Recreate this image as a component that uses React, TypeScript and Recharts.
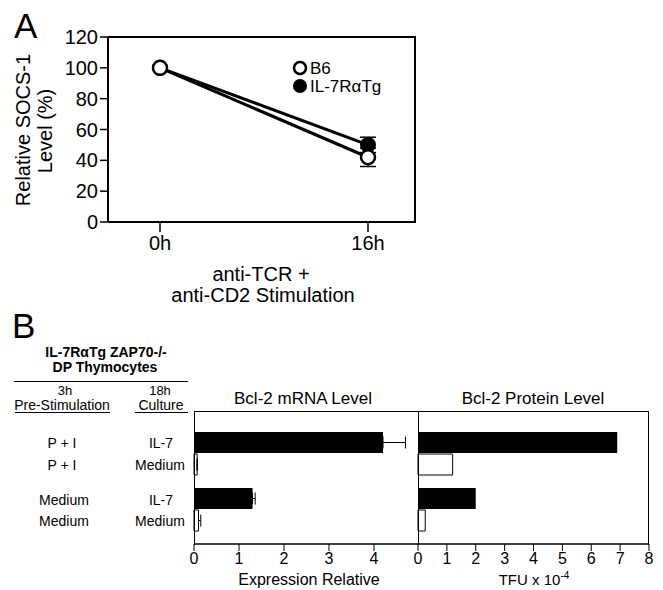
import React from "react";
import {
  LineChart,
  Line,
  BarChart,
  Bar,
  XAxis,
  YAxis,
  ErrorBar,
} from "recharts";

// Panel A: SOCS-1 time course
const timePoints = ["0h", "16h"];
const b6Values = [100, 42];
const b6Errors = [0, 6];
const tgValues = [100, 50];
const tgErrors = [0, 5];
const socsTicks = [0, 20, 40, 60, 80, 100, 120];

// Panel B: Bcl-2 bars (groups = pre-stimulation, series = 18h culture)
const preStim = ["P + I", "Medium"];
const mrnaIL7 = [4.2, 1.3];
const mrnaIL7Err = [0.5, 0.06];
const mrnaMedium = [0.07, 0.1];
const mrnaMediumErr = [0, 0.05];
const proteinIL7 = [6.9, 2.0];
const proteinMedium = [1.2, 0.25];
const mrnaTicks = [0, 1, 2, 3, 4];
const proteinTicks = [0, 1, 2, 3, 4, 5, 6, 7, 8];

const FONT = "'Liberation Sans', Arial, sans-serif";

const lineData = timePoints.map((t, i) => ({
  time: t,
  b6: b6Values[i],
  b6Err: [b6Errors[i], b6Errors[i]],
  tg: tgValues[i],
  tgErr: [tgErrors[i], tgErrors[i]],
}));

const mrnaData = preStim.map((p, i) => ({
  pre: p,
  il7: mrnaIL7[i],
  il7Err: [0, mrnaIL7Err[i]],
  medium: mrnaMedium[i],
  mediumErr: [0, mrnaMediumErr[i]],
}));

const proteinData = preStim.map((p, i) => ({
  pre: p,
  il7: proteinIL7[i],
  medium: proteinMedium[i],
}));

const abs = (style: React.CSSProperties): React.CSSProperties => ({
  position: "absolute",
  whiteSpace: "nowrap",
  lineHeight: 1,
  ...style,
});

function Centered({ x, y, size, children, weight }: any) {
  return (
    <div
      style={abs({
        left: x,
        top: y,
        transform: "translate(-50%, -50%)",
        fontSize: size,
        fontWeight: weight || "normal",
      })}
    >
      {children}
    </div>
  );
}

function SocsLegend() {
  const row: React.CSSProperties = {
    display: "flex",
    alignItems: "center",
    height: 16,
    marginBottom: 2,
  };
  return (
    <div style={abs({ left: 292, top: 60, fontSize: 17 })}>
      <div style={row}>
        <svg width={16} height={16}>
          <circle cx={8} cy={8} r={6} fill="#fff" stroke="#000" strokeWidth={2.5} />
        </svg>
        <span style={{ marginLeft: 2, lineHeight: "15px" }}>B6</span>
      </div>
      <div style={row}>
        <svg width={16} height={16}>
          <circle cx={8} cy={8} r={7} fill="#000" />
        </svg>
        <span style={{ marginLeft: 2, lineHeight: "15px" }}>IL-7RαTg</span>
      </div>
    </div>
  );
}

export default function App() {
  return (
    <div
      style={{
        position: "absolute",
        left: 0,
        top: 0,
        width: 663,
        height: 590,
        background: "#fff",
        fontFamily: FONT,
        color: "#000",
      }}
    >
      {/* Panel A */}
      <div style={abs({ left: 0, top: 0 })}>
        <LineChart
          width={663}
          height={310}
          data={lineData}
          margin={{ top: 37, right: 248, left: 48, bottom: 58 }}
        >
          <XAxis
            dataKey="time"
            padding={{ left: 52, right: 47 }}
            height={30}
            tickSize={10}
            tick={{ fontSize: 20, fill: "#000", fontFamily: FONT }}
            axisLine={{ stroke: "#000", strokeWidth: 2 }}
            tickLine={{ stroke: "#000", strokeWidth: 1.5 }}
            tickMargin={4}
          />
          <YAxis
            domain={[0, 120]}
            ticks={socsTicks}
            width={60}
            tickSize={8}
            tick={{ fontSize: 20, fill: "#000", fontFamily: FONT }}
            axisLine={{ stroke: "#000", strokeWidth: 2 }}
            tickLine={{ stroke: "#000", strokeWidth: 1.5 }}
            tickMargin={2}
          />
          <Line
            dataKey="tg"
            stroke="#000"
            strokeWidth={3}
            dot={{ r: 7, fill: "#000", stroke: "#000", strokeWidth: 2 }}
            isAnimationActive={false}
          >
            <ErrorBar dataKey="tgErr" width={8} stroke="#000" strokeWidth={1.5} />
          </Line>
          <Line
            dataKey="b6"
            stroke="#000"
            strokeWidth={3}
            dot={{ r: 7, fill: "#fff", stroke: "#000", strokeWidth: 2.5 }}
            isAnimationActive={false}
          >
            <ErrorBar dataKey="b6Err" width={8} stroke="#000" strokeWidth={1.5} />
          </Line>
        </LineChart>
      </div>
      {/* box top/right for panel A */}
      <div
        style={abs({
          left: 108,
          top: 36,
          width: 308,
          height: 187,
          borderTop: "2px solid #000",
          borderRight: "2px solid #000",
          boxSizing: "border-box",
          pointerEvents: "none",
        })}
      />
      <SocsLegend />
      <div style={abs({ left: 14, top: 8, fontSize: 35 })}>A</div>
      <div
        style={abs({
          left: 23,
          top: 130,
          fontSize: 20,
          transform: "translate(-50%, -50%) rotate(-90deg)",
        })}
      >
        Relative SOCS-1
      </div>
      <div
        style={abs({
          left: 45,
          top: 131,
          fontSize: 20,
          transform: "translate(-50%, -50%) rotate(-90deg)",
        })}
      >
        Level (%)
      </div>
      <Centered x={261} y={274} size={20}>
        anti-TCR +
      </Centered>
      <Centered x={263} y={295} size={20}>
        anti-CD2 Stimulation
      </Centered>

      {/* Panel B */}
      <div style={abs({ left: 12, top: 308, fontSize: 35 })}>B</div>
      <Centered x={106} y={352} size={14} weight="bold">
        IL-7RαTg ZAP70-/-
      </Centered>
      <Centered x={105} y={367} size={14} weight="bold">
        DP Thymocytes
      </Centered>
      <div style={abs({ left: 14, top: 381, width: 174, height: 1, background: "#000" })} />
      <Centered x={65} y={390} size={13}>
        3h
      </Centered>
      <Centered x={62} y={405} size={14}>
        Pre-Stimulation
      </Centered>
      <div style={abs({ left: 15, top: 412, width: 95, height: 1, background: "#000" })} />
      <Centered x={160} y={390} size={13}>
        18h
      </Centered>
      <Centered x={161} y={405} size={14}>
        Culture
      </Centered>
      <div style={abs({ left: 135, top: 412, width: 53, height: 1, background: "#000" })} />

      <Centered x={62} y={443} size={14}>P + I</Centered>
      <Centered x={161} y={443} size={14}>IL-7</Centered>
      <Centered x={62} y={465} size={14}>P + I</Centered>
      <Centered x={160} y={465} size={14}>Medium</Centered>
      <Centered x={64} y={500} size={14}>Medium</Centered>
      <Centered x={161} y={500} size={14}>IL-7</Centered>
      <Centered x={64} y={521} size={14}>Medium</Centered>
      <Centered x={160} y={521} size={14}>Medium</Centered>

      <Centered x={303} y={398} size={17}>Bcl-2 mRNA Level</Centered>
      <Centered x={533} y={398} size={17}>Bcl-2 Protein Level</Centered>

      <div style={abs({ left: 150, top: 380 })}>
        <BarChart
          layout="vertical"
          width={300}
          height={210}
          data={mrnaData}
          barGap={1}
          barSize={21}
          margin={{ top: 32, right: 31, left: 44, bottom: 16 }}
        >
          <XAxis
            type="number"
            domain={[0, 5]}
            ticks={mrnaTicks}
            height={30}
            tickSize={7}
            tickMargin={2}
            tick={{ fontSize: 16, fill: "#000", fontFamily: FONT }}
            axisLine={{ stroke: "#000", strokeWidth: 1.5 }}
            tickLine={{ stroke: "#000" }}
          />
          <YAxis type="category" dataKey="pre" hide padding={{ top: 13, bottom: 7 }} />
          <Bar dataKey="il7" fill="#000" isAnimationActive={false}>
            <ErrorBar dataKey="il7Err" direction="x" width={6} stroke="#000" strokeWidth={1} />
          </Bar>
          <Bar dataKey="medium" fill="#fff" stroke="#000" strokeWidth={1} isAnimationActive={false}>
            <ErrorBar dataKey="mediumErr" direction="x" width={6} stroke="#000" strokeWidth={1} />
          </Bar>
        </BarChart>
      </div>
      <div
        style={abs({
          left: 194,
          top: 411,
          width: 225,
          height: 134,
          border: "1.5px solid #000",
          borderBottom: "none",
          boxSizing: "border-box",
          pointerEvents: "none",
        })}
      />

      <div style={abs({ left: 380, top: 380 })}>
        <BarChart
          layout="vertical"
          width={283}
          height={210}
          data={proteinData}
          barGap={1}
          barSize={21}
          margin={{ top: 32, right: 14, left: 38, bottom: 16 }}
        >
          <XAxis
            type="number"
            domain={[0, 8]}
            ticks={proteinTicks}
            height={30}
            tickSize={7}
            tickMargin={2}
            tick={{ fontSize: 16, fill: "#000", fontFamily: FONT }}
            axisLine={{ stroke: "#000", strokeWidth: 1.5 }}
            tickLine={{ stroke: "#000" }}
          />
          <YAxis type="category" dataKey="pre" hide padding={{ top: 13, bottom: 7 }} />
          <Bar dataKey="il7" fill="#000" isAnimationActive={false} />
          <Bar dataKey="medium" fill="#fff" stroke="#000" strokeWidth={1} isAnimationActive={false} />
        </BarChart>
      </div>
      <div
        style={abs({
          left: 418,
          top: 411,
          width: 231,
          height: 134,
          border: "1.5px solid #000",
          borderBottom: "none",
          boxSizing: "border-box",
          pointerEvents: "none",
        })}
      />

      <Centered x={309} y={580} size={16}>Expression Relative</Centered>
      <div
        style={abs({
          left: 534,
          top: 579,
          fontSize: 15,
          transform: "translate(-50%, -50%)",
        })}
      >
        TFU x 10<sup style={{ fontSize: 10, verticalAlign: "6px" }}>-4</sup>
      </div>
    </div>
  );
}
